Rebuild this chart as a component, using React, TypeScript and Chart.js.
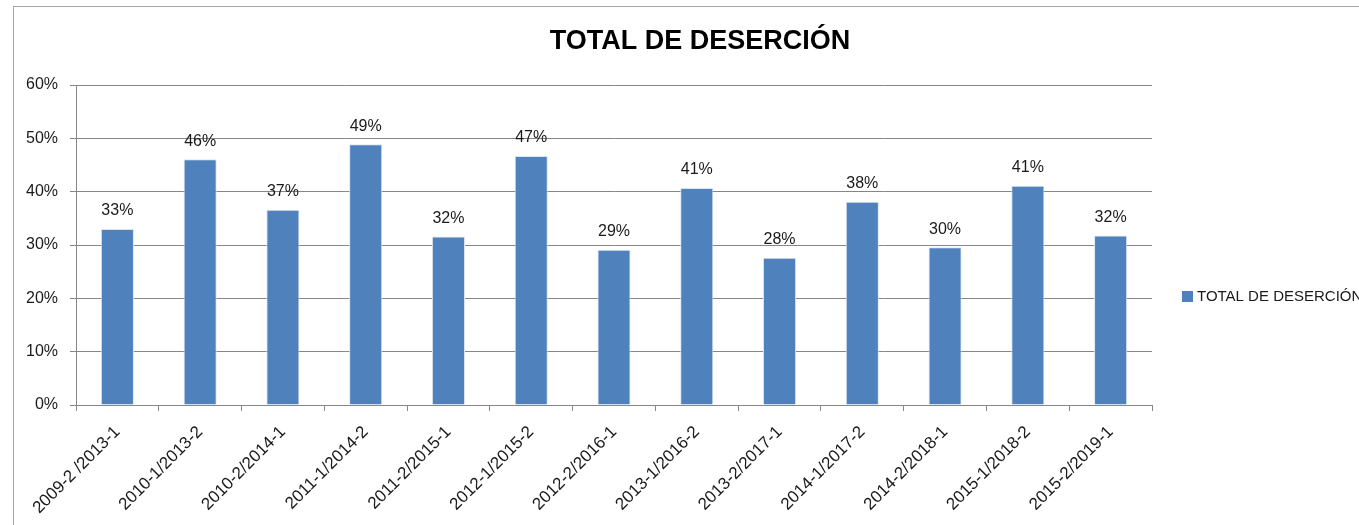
import React, { useEffect, useRef } from "react";
import { Chart, registerables } from "chart.js";

Chart.register(...registerables);

const categories: string[] = [
  "2009-2 /2013-1",
  "2010-1/2013-2",
  "2010-2/2014-1",
  "2011-1/2014-2",
  "2011-2/2015-1",
  "2012-1/2015-2",
  "2012-2/2016-1",
  "2013-1/2016-2",
  "2013-2/2017-1",
  "2014-1/2017-2",
  "2014-2/2018-1",
  "2015-1/2018-2",
  "2015-2/2019-1",
];

const desercion: number[] = [
  0.33, 0.461, 0.366, 0.489, 0.316, 0.467, 0.291, 0.407, 0.276, 0.381, 0.296, 0.411, 0.318,
];

const yTicks: number[] = [0, 0.1, 0.2, 0.3, 0.4, 0.5, 0.6];

const chartTitle = "TOTAL DE DESERCIÓN";
const seriesName = "TOTAL DE DESERCIÓN";

const FONT = "'Liberation Sans', Arial, sans-serif";
const BAR = "#4F81BD";
const GRID = "#868686";
const TEXT = "#1a1a1a";

const CW = 1372;
const CH = 558;

const fmtPct = (v: number) => Math.round(v * 100) + "%";

const decorPlugin = {
  id: "decor",
  afterDatasetsDraw(chart: any) {
    const ctx = chart.ctx;
    ctx.save();
    // data labels
    ctx.font = `16px ${FONT}`;
    ctx.fillStyle = TEXT;
    ctx.textAlign = "center";
    ctx.textBaseline = "middle";
    const meta = chart.getDatasetMeta(0);
    meta.data.forEach((el: any, i: number) => {
      const v = chart.data.datasets[0].data[i] as number;
      ctx.fillText(fmtPct(v), el.x, el.y - 18);
    });
    // title
    ctx.font = `bold 27px ${FONT}`;
    ctx.fillStyle = "#000";
    ctx.fillText(chartTitle, CW / 2, 35);
    // legend
    const lx = chart.chartArea.right + 30;
    const ly = 289;
    ctx.fillStyle = BAR;
    ctx.fillRect(lx, ly - 5, 11, 11);
    ctx.fillStyle = TEXT;
    ctx.textAlign = "left";
    ctx.font = `15px ${FONT}`;
    ctx.fillText(seriesName, lx + 15, ly + 1);
    ctx.restore();
  },
};

export default function App() {
  const ref = useRef<HTMLCanvasElement | null>(null);

  useEffect(() => {
    if (!ref.current) return;
    const chart = new Chart(ref.current, {
      type: "bar",
      data: {
        labels: categories,
        datasets: [
          {
            label: seriesName,
            data: desercion,
            backgroundColor: BAR,
            borderColor: "#dbe4f0",
            borderWidth: { top: 1, left: 1, right: 1, bottom: 0 },
            barPercentage: 0.4,
            categoryPercentage: 1,
          },
        ],
      },
      options: {
        responsive: false,
        animation: false,
        devicePixelRatio: 1,
        layout: { padding: { top: 78, left: 0, right: CW - 1138, bottom: 0 } },
        plugins: {
          legend: { display: false },
          title: { display: false },
          tooltip: { enabled: false },
        },
        scales: {
          x: {
            grid: {
              offset: true,
              drawOnChartArea: false,
              drawTicks: true,
              tickLength: 6,
              color: GRID,
            },
            border: { display: true, color: GRID },
            ticks: {
              autoSkip: false,
              maxRotation: 45,
              minRotation: 45,
              color: TEXT,
              padding: 11,
              font: { family: FONT, size: 17 },
            },
            afterFit: (s: any) => {
              s.height = CH - 398;
            },
          },
          y: {
            min: 0,
            max: 0.6,
            afterBuildTicks: (s: any) => {
              s.ticks = yTicks.map((v) => ({ value: v }));
            },
            grid: { color: GRID, tickLength: 6, drawTicks: true },
            border: { display: true, color: GRID },
            ticks: {
              color: TEXT,
              padding: 12,
              font: { family: FONT, size: 16 },
              callback: (v: any) => fmtPct(Number(v)),
            },
            afterFit: (s: any) => {
              s.width = 62;
            },
          },
        },
      },
      plugins: [decorPlugin],
    });
    return () => chart.destroy();
  }, []);

  return (
    <div style={{ position: "fixed", inset: 0, overflow: "hidden", background: "#fff" }}>
      <div
        style={{
          position: "absolute",
          left: 13,
          top: 6,
          width: CW + 2,
          height: CH + 2,
          border: "1px solid #a6a6a6",
          boxSizing: "border-box",
        }}
      >
        <canvas ref={ref} width={CW} height={CH} style={{ display: "block", width: CW, height: CH }} />
      </div>
    </div>
  );
}
